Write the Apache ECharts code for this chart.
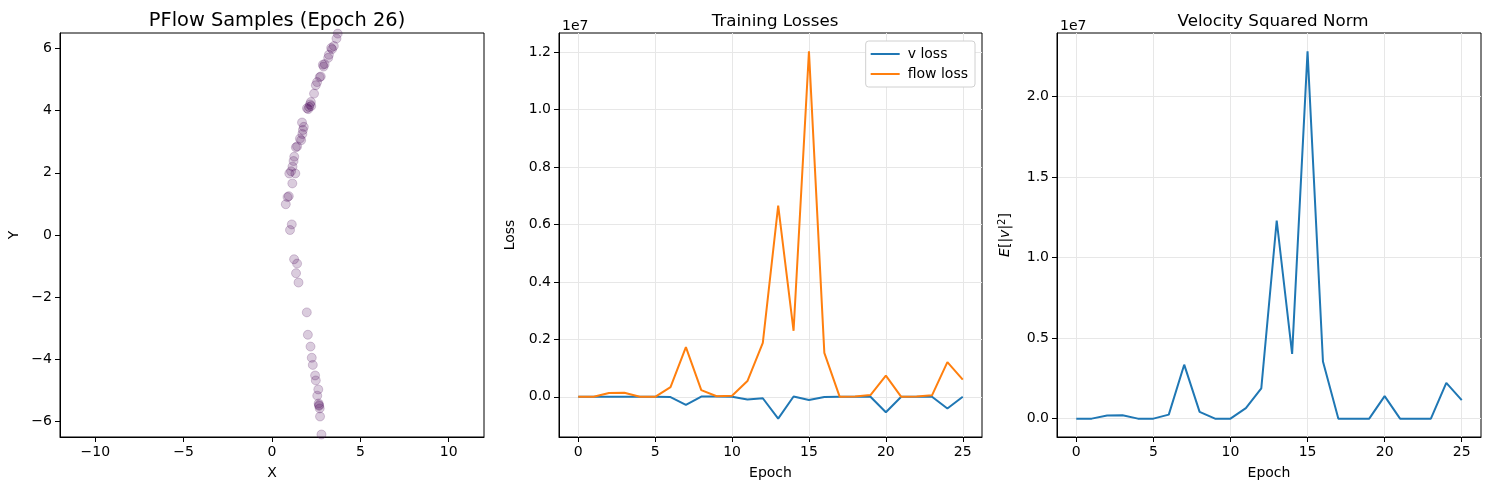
<!DOCTYPE html>
<html>
<head>
<meta charset="utf-8">
<script src="https://cdn.jsdelivr.net/npm/echarts@6/dist/echarts.min.js"></script>
<style>
html,body{margin:0;padding:0;background:#fff;}
#chart{width:1489px;height:490px;}
</style>
</head>
<body>
<div id="chart"></div>
<script>
// ---- data ----
const sampleX = [3.72,3.65,3.50,3.40,3.35,3.22,3.18,2.98,2.92,2.88,2.76,2.70,2.55,2.48,2.38,2.20,2.10,2.05,2.22,2.15,1.98,1.70,1.80,1.75,1.72,1.58,1.65,1.42,1.35,1.26,1.22,1.16,0.98,1.32,1.08,1.15,0.95,0.88,0.78,1.12,1.02,1.25,1.42,1.36,1.50,1.97,2.03,2.18,2.25,2.31,2.44,2.48,2.62,2.56,2.64,2.67,2.70,2.66,2.72,2.80,2.85];
const sampleY = [6.48,6.32,6.08,5.98,6.02,5.80,5.70,5.50,5.42,5.48,5.10,5.08,4.92,4.82,4.55,4.28,4.12,4.05,4.15,4.20,4.08,3.62,3.48,3.38,3.25,3.10,3.05,2.85,2.82,2.52,2.38,2.20,1.98,1.98,2.05,1.66,1.25,1.22,0.99,0.34,0.16,-0.78,-0.92,-1.23,-1.53,-2.49,-3.21,-3.59,-3.95,-4.18,-4.52,-4.68,-4.97,-5.17,-5.42,-5.50,-5.58,-5.47,-5.84,-6.42,-6.55];
const epochs = [0,1,2,3,4,5,6,7,8,9,10,11,12,13,14,15,16,17,18,19,20,21,22,23,24,25];
const vLoss = [0,0,0,0,0,0,-0.01e6,-0.28e6,0.01e6,0.01e6,0,-0.094e6,-0.05e6,-0.76e6,0.01e6,-0.11e6,-0.01e6,0,0,0,-0.54e6,0,0,0,-0.41e6,0];
const flowLoss = [0,0,0.13e6,0.14e6,0,0,0.34e6,1.73e6,0.235e6,0.02e6,0.035e6,0.55e6,1.88e6,6.66e6,2.3e6,12.03e6,1.53e6,0,0.01e6,0.06e6,0.74e6,0,0.01e6,0.05e6,1.21e6,0.6e6];
const velNorm = [0,0,0.19e6,0.21e6,0,0,0.25e6,3.35e6,0.42e6,0,0,0.65e6,1.88e6,12.3e6,4.02e6,22.8e6,3.54e6,0,0,0,1.40e6,0,0,0,2.22e6,1.15e6];
const scatterXTicks = [-10,-5,0,5,10];
const scatterYTicks = [-6,-4,-2,0,2,4,6];
const epochTicks = [0,5,10,15,20,25];
const lossTicks = [0,2e6,4e6,6e6,8e6,10e6,12e6];
const velTicks = [0,5e6,10e6,15e6,20e6];

// ---- chart ----
const FONT = 'DejaVu Sans';
const minus = v => (v < 0 ? '\u2212' + Math.abs(v) : String(v));
const e7 = v => (v / 1e7).toFixed(1);
const gridLine = {show:true, lineStyle:{color:'#e7e7e7', width:1}};
function axisBase(ticks, fmt, split){
  return {
    axisLine:{show:true, onZero:false, lineStyle:{color:'#000', width:1}},
    axisTick:{show:true, inside:false, length:5, customValues:ticks, lineStyle:{color:'#000', width:1}},
    axisLabel:{show:true, customValues:ticks, formatter:fmt, color:'#000', fontSize:14, fontFamily:FONT, margin:8},
    splitLine: split ? Object.assign({customValues:ticks}, gridLine) : {show:false},
    nameTextStyle:{color:'#000', fontSize:14, fontFamily:FONT}
  };
}
const chart = echarts.init(document.getElementById('chart'), null, {renderer:'canvas'});
const option = {
  backgroundColor:'#fff',
  animation:false,
  textStyle:{fontFamily:FONT},
  title:[
    {text:'PFlow Samples (Epoch 26)', left:272, top:6, textAlign:'center', textStyle:{fontSize:19.4, fontWeight:'normal', color:'#000', fontFamily:FONT}},
    {text:'Training Losses', left:770, top:8, textAlign:'center', textStyle:{fontSize:16.7, fontWeight:'normal', color:'#000', fontFamily:FONT}},
    {text:'Velocity Squared Norm', left:1268, top:8, textAlign:'center', textStyle:{fontSize:16.7, fontWeight:'normal', color:'#000', fontFamily:FONT}},
    {text:'1e7', left:557, top:14, textStyle:{fontSize:14, fontWeight:'normal', color:'#000', fontFamily:FONT}},
    {text:'1e7', left:1055, top:14, textStyle:{fontSize:14, fontWeight:'normal', color:'#000', fontFamily:FONT}}
  ],
  grid:[
    {left:60, right:1005, top:33, bottom:53, show:true, borderColor:'#000', borderWidth:1},
    {left:559, right:507, top:33, bottom:53, show:true, borderColor:'#000', borderWidth:1},
    {left:1057, right:8, top:33, bottom:53, show:true, borderColor:'#000', borderWidth:1}
  ],
  legend:{
    data:['v loss','flow loss'],
    orient:'vertical', right:514, top:41,
    backgroundColor:'#fff', borderColor:'#d0d0d0', borderWidth:1, borderRadius:3,
    padding:[6,7,6,5], itemGap:6, itemWidth:29, itemHeight:2, icon:'rect',
    textStyle:{fontSize:14, color:'#000', fontFamily:FONT, padding:[0,0,0,3]}
  },
  xAxis:[
    Object.assign(axisBase(scatterXTicks, minus, false), {type:'value', gridIndex:0, min:-12, max:12, name:'X', nameLocation:'middle', nameGap:29}),
    Object.assign(axisBase(epochTicks, v => String(v), true), {type:'value', gridIndex:1, min:-1.25, max:26.25, name:'Epoch', nameLocation:'middle', nameGap:29}),
    Object.assign(axisBase(epochTicks, v => String(v), true), {type:'value', gridIndex:2, min:-1.25, max:26.25, name:'Epoch', nameLocation:'middle', nameGap:29})
  ],
  yAxis:[
    Object.assign(axisBase(scatterYTicks, minus, false), {type:'value', gridIndex:0, min:-6.5, max:6.5, name:'Y', nameLocation:'middle', nameGap:39}),
    Object.assign(axisBase(lossTicks, e7, true), {type:'value', gridIndex:1, min:-1.4e6, max:12.67e6, name:'Loss', nameLocation:'middle', nameGap:42}),
    Object.assign(axisBase(velTicks, e7, true), {type:'value', gridIndex:2, min:-1.14e6, max:23.94e6, name:'{i|E}[|{i|v}|{s|2}]', nameLocation:'middle', nameGap:44,
      nameTextStyle:{color:'#000', fontSize:14, fontFamily:FONT, rich:{i:{fontStyle:'italic', fontSize:14, fontFamily:FONT, color:'#000'}, s:{fontSize:10, verticalAlign:'top', fontFamily:FONT, color:'#000', padding:[0,0,6,0]}}}})
  ],
  series:[
    {type:'scatter', xAxisIndex:0, yAxisIndex:0, symbolSize:9,
      data: sampleX.map((x,i)=>[x, sampleY[i]]),
      itemStyle:{color:'#440154', borderColor:'#440154', borderWidth:1, opacity:0.2}},
    {name:'v loss', type:'line', xAxisIndex:1, yAxisIndex:1, showSymbol:false, symbol:'none',
      data: epochs.map((e,i)=>[e, vLoss[i]]), lineStyle:{color:'#1f77b4', width:2}, itemStyle:{color:'#1f77b4'}},
    {name:'flow loss', type:'line', xAxisIndex:1, yAxisIndex:1, showSymbol:false, symbol:'none',
      data: epochs.map((e,i)=>[e, flowLoss[i]]), lineStyle:{color:'#ff7f0e', width:2}, itemStyle:{color:'#ff7f0e'}},
    {type:'line', xAxisIndex:2, yAxisIndex:2, showSymbol:false, symbol:'none',
      data: epochs.map((e,i)=>[e, velNorm[i]]), lineStyle:{color:'#1f77b4', width:2}, itemStyle:{color:'#1f77b4'}}
  ]
};
chart.setOption(option);
</script>
</body>
</html>
